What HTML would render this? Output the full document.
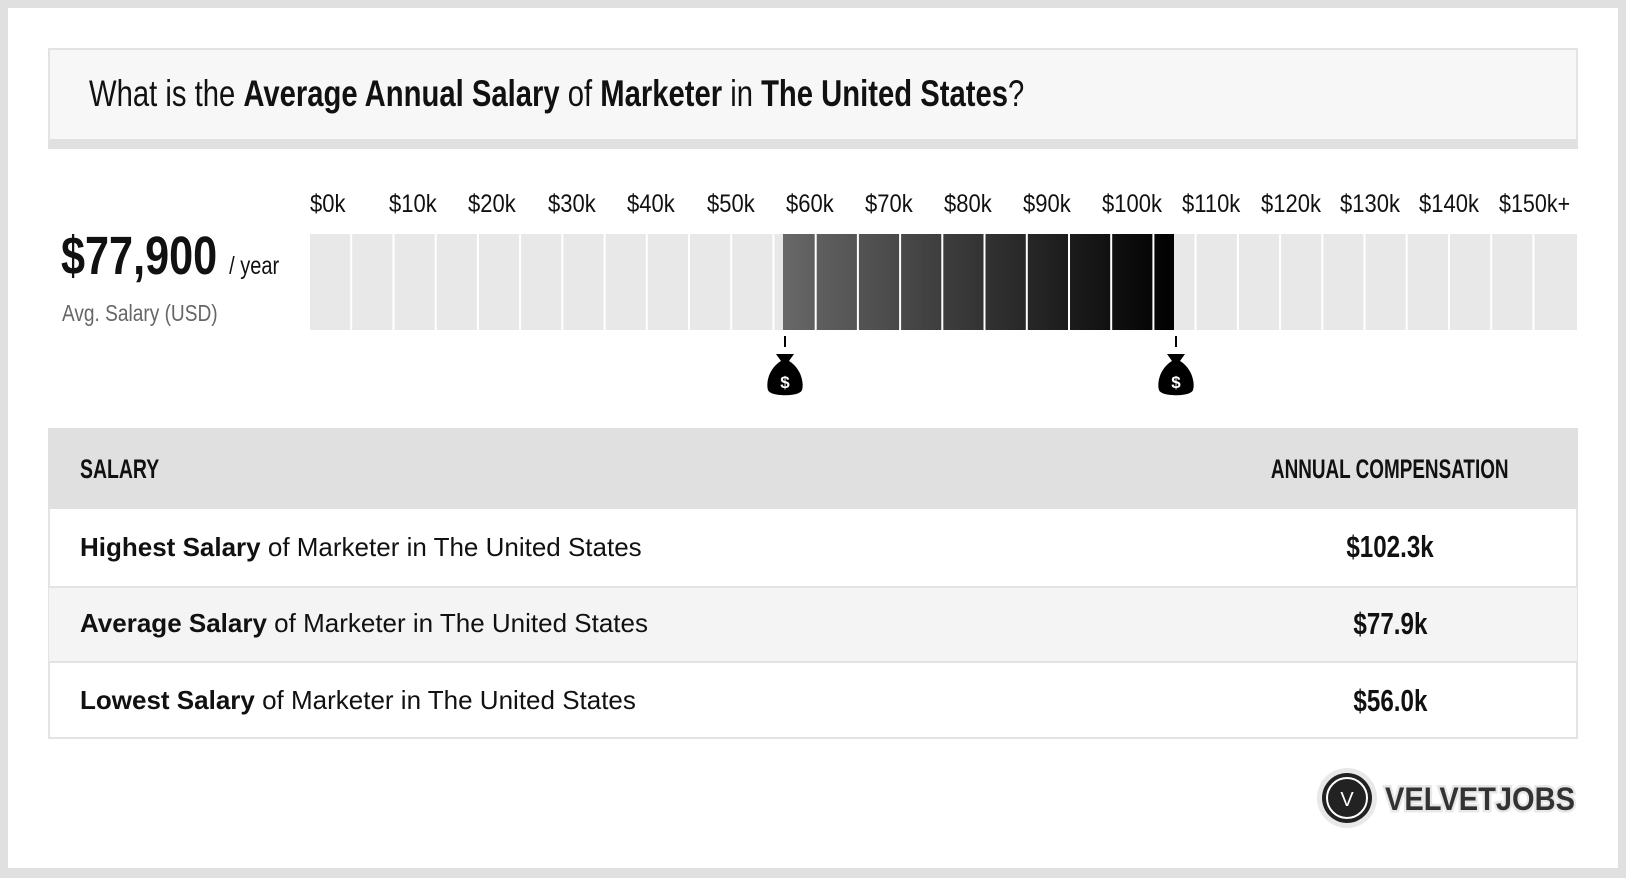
<!DOCTYPE html>
<html><head><meta charset="utf-8"><style>
*{margin:0;padding:0;box-sizing:border-box}
body{width:1626px;height:878px;background:#e0e0e0;position:relative;overflow:hidden;font-family:"Liberation Sans",sans-serif}
.page{position:absolute;left:8px;top:8px;width:1610px;height:860px;background:#fff}
.abs{position:absolute}
.c{display:inline-block;transform:scaleX(0.78);transform-origin:left center;white-space:nowrap}
.t{display:inline-block;transform:scaleX(0.88);transform-origin:left center;white-space:nowrap}
.cc{display:inline-block;transform:scaleX(0.74);transform-origin:center center;white-space:nowrap}
</style></head><body>
<div class="page"></div>
<div class="abs" style="left:48px;top:48px;width:1530px;height:101px;background:#f7f7f7;border:2px solid #e3e3e3;border-bottom:10px solid #e0e0e0"></div>
<div class="abs" style="left:89px;top:72px;font-size:37px;color:#111;line-height:44px"><span class="c" style="transform:scaleX(0.79)">What is the <b>Average Annual Salary</b> of <b>Marketer</b> in <b>The United States</b>?</span></div>
<div class="abs" style="left:61px;top:226px;font-size:54px;font-weight:bold;color:#111;line-height:60px"><span class="c" style="transform:scaleX(0.80)">$77,900 <span style="font-size:25px;font-weight:normal">/ year</span></span></div>
<div class="abs" style="left:62px;top:300px;font-size:23px;color:#666;line-height:26px"><span class="c" style="transform:scaleX(0.83)">Avg. Salary (USD)</span></div>
<div class="abs" style="left:310px;top:189px;width:1270px;height:30px;font-size:25px;color:#111;line-height:30px;white-space:nowrap">
<span class="abs t" style="left:0">$0k</span><span class="abs t" style="left:79px">$10k</span><span class="abs t" style="left:158px">$20k</span><span class="abs t" style="left:238px">$30k</span><span class="abs t" style="left:317px">$40k</span><span class="abs t" style="left:397px">$50k</span><span class="abs t" style="left:476px">$60k</span><span class="abs t" style="left:555px">$70k</span><span class="abs t" style="left:634px">$80k</span><span class="abs t" style="left:713px">$90k</span><span class="abs t" style="left:792px">$100k</span><span class="abs t" style="left:872px">$110k</span><span class="abs t" style="left:951px">$120k</span><span class="abs t" style="left:1030px">$130k</span><span class="abs t" style="left:1109px">$140k</span><span class="abs t" style="left:1189px;transform:scaleX(0.86)">$150k+</span>
</div>
<svg class="abs" style="left:310px;top:234px" width="1267" height="96">
<defs><linearGradient id="g" x1="0" x2="1"><stop offset="0" stop-color="#686868"/><stop offset="1" stop-color="#000"/></linearGradient></defs>
<rect x="0" y="0" width="1267" height="96" fill="#e8e8e8"/>
<rect x="473" y="0" width="391" height="96" fill="url(#g)"/>
<g fill="#fff">
<rect x="40.2" width="2" height="96"/><rect x="82.5" width="2" height="96"/><rect x="124.7" width="2" height="96"/><rect x="166.9" width="2" height="96"/><rect x="209.1" width="2" height="96"/><rect x="251.3" width="2" height="96"/><rect x="293.6" width="2" height="96"/><rect x="335.8" width="2" height="96"/><rect x="378" width="2" height="96"/><rect x="420.2" width="2" height="96"/><rect x="462.4" width="2" height="96"/><rect x="504.7" width="2" height="96"/><rect x="546.9" width="2" height="96"/><rect x="589.1" width="2" height="96"/><rect x="631.3" width="2" height="96"/><rect x="673.5" width="2" height="96"/><rect x="715.8" width="2" height="96"/><rect x="758" width="2" height="96"/><rect x="800.2" width="2" height="96"/><rect x="842.4" width="2" height="96"/><rect x="884.6" width="2" height="96"/><rect x="926.9" width="2" height="96"/><rect x="969.1" width="2" height="96"/><rect x="1011.3" width="2" height="96"/><rect x="1053.5" width="2" height="96"/><rect x="1095.7" width="2" height="96"/><rect x="1138" width="2" height="96"/><rect x="1180.2" width="2" height="96"/><rect x="1222.4" width="2" height="96"/>
</g></svg>
<svg class="abs" style="left:762px;top:334px" width="440" height="70">
<g id="m"><rect x="22" y="2" width="2" height="11" fill="#000"/>
<path d="M14 20 L32 20 L27 27 C40 35 42 50 40 56 C38 63 8 63 6 56 C4 50 6 35 19 27 Z" fill="#000"/>
<text x="23" y="54" font-family="Liberation Sans" font-weight="bold" font-size="17" fill="#fff" text-anchor="middle">$</text></g>
<use href="#m" x="391"/>
</svg>
<div class="abs" style="left:48px;top:428px;width:1530px;height:311px;border:2px solid #e3e3e3;border-top:none"></div>
<div class="abs" style="left:48px;top:428px;width:1530px;height:81px;background:#e0e0e0"></div>
<div class="abs" style="left:80px;top:452px;font-size:27px;font-weight:bold;color:#111;line-height:34px"><span class="c" style="transform:scaleX(0.72)">SALARY</span></div>
<div class="abs" style="left:1190px;width:400px;text-align:center;top:452px;font-size:27px;font-weight:bold;color:#111;line-height:34px"><span class="cc" style="transform:scaleX(0.70)">ANNUAL COMPENSATION</span></div>
<div class="abs" style="left:49px;top:586px;width:1528px;height:77px;background:#f4f4f4;border-top:2px solid #e3e3e3;border-bottom:2px solid #e3e3e3"></div>
<div class="abs" style="left:80px;top:531px;font-size:26px;color:#111;line-height:32px;white-space:nowrap"><b>Highest Salary</b> of Marketer in The United States</div>
<div class="abs" style="left:80px;top:607px;font-size:26px;color:#111;line-height:32px;white-space:nowrap"><b>Average Salary</b> of Marketer in The United States</div>
<div class="abs" style="left:80px;top:684px;font-size:26px;color:#111;line-height:32px;white-space:nowrap"><b>Lowest Salary</b> of Marketer in The United States</div>
<div class="abs" style="left:1190px;width:400px;text-align:center;top:529px;font-size:31px;font-weight:bold;color:#111;line-height:36px"><span class="cc" style="transform:scaleX(0.78)">$102.3k</span></div>
<div class="abs" style="left:1190px;width:400px;text-align:center;top:606px;font-size:31px;font-weight:bold;color:#111;line-height:36px"><span class="cc" style="transform:scaleX(0.78)">$77.9k</span></div>
<div class="abs" style="left:1190px;width:400px;text-align:center;top:683px;font-size:31px;font-weight:bold;color:#111;line-height:36px"><span class="cc" style="transform:scaleX(0.78)">$56.0k</span></div>
<svg class="abs" style="left:1315px;top:766px" width="270" height="64">
<circle cx="32" cy="32" r="30" fill="#e8e8e8"/>
<circle cx="32" cy="32" r="25" fill="#222"/>
<circle cx="32" cy="32" r="20" fill="none" stroke="#fff" stroke-width="2"/>
<text x="32" y="40" font-family="Liberation Sans" font-size="20" fill="#fff" text-anchor="middle">V</text>
<text x="70" y="44" font-family="Liberation Sans" font-weight="bold" font-size="32" fill="#333" stroke="#e8e8e8" stroke-width="5" paint-order="stroke" textLength="190" lengthAdjust="spacingAndGlyphs">VELVETJOBS</text>
</svg>
</body></html>
